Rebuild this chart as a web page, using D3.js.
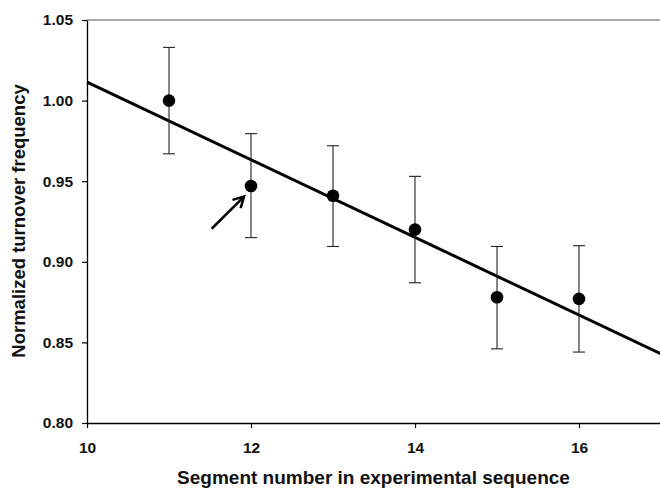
<!DOCTYPE html>
<html><head><meta charset="utf-8">
<script src="https://cdn.jsdelivr.net/npm/d3@7"></script>
<style>body{margin:0;background:#fff;}svg{display:block;font-family:"Liberation Sans",Arial,sans-serif;}</style>
</head><body>
<svg id="c" width="660" height="490"></svg>
<script>
const segments = [11, 12, 13, 14, 15, 16];
const meanFreq = [1.000, 0.947, 0.941, 0.920, 0.878, 0.877];
const errLow  = [0.967, 0.915, 0.9095, 0.887, 0.846, 0.844];
const errHigh = [1.033, 0.9795, 0.972, 0.953, 0.9095, 0.910];
const fitX = [10, 17];
const fitY = [1.0115, 0.8429];
const xTicks = [10, 12, 14, 16];
const yTicks = [0.80, 0.85, 0.90, 0.95, 1.00, 1.05];
const arrowFrom = [11.52, 0.9205];
const arrowTo = [11.915, 0.9405];

const svg = d3.select("#c");
const L = 87, R = 661, T = 20, B = 423;
const x = d3.scaleLinear().domain([10, 17]).range([L, R]);
const y = d3.scaleLinear().domain([0.80, 1.05]).range([B, T]);

// top border
svg.append("line").attr("x1", L).attr("x2", 660).attr("y1", T).attr("y2", T)
  .attr("stroke", "#555").attr("stroke-width", 1.2);

const xAxis = svg.append("g").attr("transform", `translate(0,${B})`)
  .call(d3.axisBottom(x).tickValues(xTicks).tickFormat(d3.format("d")).tickSize(5).tickSizeOuter(0));
const yAxis = svg.append("g").attr("transform", `translate(${L},0)`)
  .call(d3.axisLeft(y).tickValues(yTicks).tickFormat(d3.format(".2f")).tickSize(5).tickSizeOuter(0));
[xAxis, yAxis].forEach(g => {
  g.select(".domain").attr("stroke", "#000").attr("stroke-width", 1.3);
  g.selectAll(".tick line").attr("stroke", "#000").attr("stroke-width", 1.2);
  g.selectAll("text").attr("font-size", 15.5).attr("font-weight", "bold").attr("fill", "#111")
    .attr("font-family", "Liberation Sans, Arial, sans-serif");
});
xAxis.selectAll("text").attr("y", 30).attr("dy", 0);
yAxis.selectAll("text").attr("x", -14);

// fit line
svg.append("line").attr("x1", x(fitX[0])).attr("y1", y(fitY[0]))
  .attr("x2", x(fitX[1])).attr("y2", y(fitY[1]))
  .attr("stroke", "#000").attr("stroke-width", 3);

// error bars
const data = segments.map((s, i) => ({s, m: meanFreq[i], lo: errLow[i], hi: errHigh[i]}));
const eb = svg.append("g").attr("stroke", "#222").attr("stroke-width", 1.1);
data.forEach(d => {
  eb.append("line").attr("x1", x(d.s)).attr("x2", x(d.s)).attr("y1", y(d.lo)).attr("y2", y(d.hi));
  eb.append("line").attr("x1", x(d.s) - 6).attr("x2", x(d.s) + 6).attr("y1", y(d.lo)).attr("y2", y(d.lo));
  eb.append("line").attr("x1", x(d.s) - 6).attr("x2", x(d.s) + 6).attr("y1", y(d.hi)).attr("y2", y(d.hi));
});
svg.append("g").selectAll("circle").data(data).join("circle")
  .attr("cx", d => x(d.s)).attr("cy", d => y(d.m)).attr("r", 6.3).attr("fill", "#000");

// arrow
const ax1 = x(arrowFrom[0]), ay1 = y(arrowFrom[1]), ax2 = x(arrowTo[0]), ay2 = y(arrowTo[1]);
svg.append("line").attr("x1", ax1).attr("y1", ay1).attr("x2", ax2 - 1).attr("y2", ay2 + 1)
  .attr("stroke", "#000").attr("stroke-width", 2.5);
const ang = Math.atan2(ay2 - ay1, ax2 - ax1);
const hl = 12, ha = 0.5;
const p1 = [ax2 - hl * Math.cos(ang - ha), ay2 - hl * Math.sin(ang - ha)];
const p2 = [ax2 - hl * Math.cos(ang + ha), ay2 - hl * Math.sin(ang + ha)];
svg.append("path").attr("d", `M${p1[0]},${p1[1]}L${ax2},${ay2}L${p2[0]},${p2[1]}`)
  .attr("fill", "none").attr("stroke", "#000").attr("stroke-width", 2.5).attr("stroke-linejoin", "miter");

// labels
svg.append("text").attr("x", 373.5).attr("y", 484).attr("text-anchor", "middle")
  .attr("font-size", 19).attr("font-weight", "bold").attr("fill", "#111")
  .text("Segment number in experimental sequence");
svg.append("text").attr("transform", "translate(25,221) rotate(-90)").attr("text-anchor", "middle")
  .attr("font-size", 18.5).attr("font-weight", "bold").attr("fill", "#111")
  .text("Normalized turnover frequency");
</script>
</body></html>
